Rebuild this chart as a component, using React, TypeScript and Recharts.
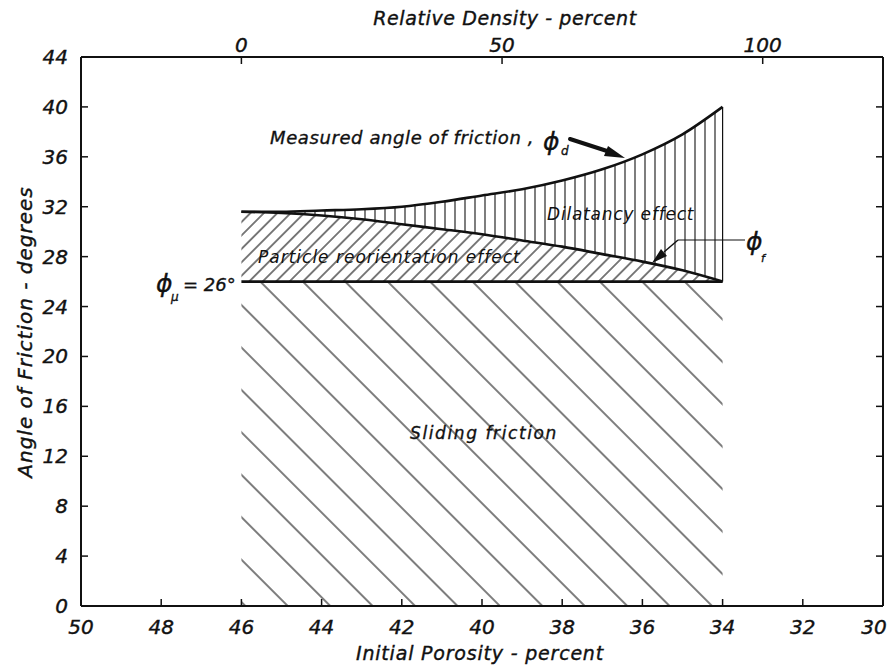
import React from "react";
import { ComposedChart, Area, Line, XAxis, YAxis, ReferenceLine } from "recharts";

// initial porosity (percent) along the curves
const porosity = [46, 45, 44, 43, 42, 41, 40, 39, 38, 37, 36, 35, 34];
// measured angle of friction, phi_d (degrees)
const phiD = [31.6, 31.6, 31.7, 31.8, 32.0, 32.4, 32.9, 33.4, 34.1, 35.0, 36.2, 37.8, 40.0];
// friction angle after reorientation, phi_f (degrees)
const phiF = [31.6, 31.5, 31.3, 31.0, 30.6, 30.2, 29.8, 29.3, 28.8, 28.2, 27.6, 26.9, 26.0];
// sliding friction angle, phi_mu (degrees)
const PHI_MU = 26;

const porosityTicks = [50, 48, 46, 44, 42, 40, 38, 36, 34, 32, 30];
const angleTicks = [0, 4, 8, 12, 16, 20, 24, 28, 32, 36, 40, 44];
const densityTicks = [0, 50, 100];

// porosity at 0 % and 100 % relative density
const POROSITY_LOOSE = 46;
const POROSITY_DENSE = 33;

const toDensity = (p: number) =>
  ((POROSITY_LOOSE - p) / (POROSITY_LOOSE - POROSITY_DENSE)) * 100;

const rows = porosity.map((p, i) => ({
  p,
  density: toDensity(p),
  mu: PHI_MU,
  f: phiF[i],
  d: phiD[i],
  sliding: [0, PHI_MU],
  reorient: [PHI_MU, phiF[i]],
  dilat: [phiF[i], phiD[i]],
}));

const FONT = '"DejaVu Sans", Verdana, sans-serif';
const INK = "#111";
const tickStyle: React.CSSProperties = {
  fontFamily: FONT,
  fontStyle: "italic",
  fontSize: 20,
  fill: INK,
  stroke: INK,
  strokeWidth: 0.4,
};
const noteStyle: React.CSSProperties = {
  fontFamily: FONT,
  fontStyle: "italic",
  fontSize: 17,
  fill: INK,
  stroke: INK,
  strokeWidth: 0.35,
};
// white halo so the hatching breaks around the lettering
const halo: React.CSSProperties = {
  stroke: "#fff",
  strokeWidth: 7,
  paintOrder: "stroke",
  strokeLinejoin: "round",
};

function BottomTick({ x, y, payload }: any) {
  // keep the last label inside the frame
  const lx = payload.value === 30 ? x - 9 : x;
  return (
    <g>
      <line x1={x} x2={x} y1={y} y2={y - 7} stroke={INK} strokeWidth={1.5} />
      <text x={lx} y={y + 28} textAnchor="middle" style={tickStyle}>
        {payload.value}
      </text>
    </g>
  );
}

function TopTick({ x, y, payload }: any) {
  return (
    <g>
      <line x1={x} x2={x} y1={y} y2={y + 7} stroke={INK} strokeWidth={1.5} />
      <text x={x} y={y - 5} textAnchor="middle" style={tickStyle}>
        {payload.value}
      </text>
    </g>
  );
}

function LeftTick({ x, y, payload }: any) {
  return (
    <g>
      <line x1={x} x2={x + 7} y1={y} y2={y} stroke={INK} strokeWidth={1.5} />
      <text x={x - 13} y={y + 7} textAnchor="end" style={tickStyle}>
        {payload.value}
      </text>
    </g>
  );
}

function RightTick({ x, y, payload }: any) {
  if (payload.value === 0 || payload.value === 44) return <g />;
  return <line x1={x} x2={x - 7} y1={y} y2={y} stroke={INK} strokeWidth={1.5} />;
}

function Notes() {
  return (
    <g>
      {/* axis titles */}
      <text x={505} y={25} textAnchor="middle" style={{ ...tickStyle, fontSize: 19, letterSpacing: 0.6 }}>
        Relative Density - percent
      </text>
      <text x={480} y={660} textAnchor="middle" style={{ ...tickStyle, fontSize: 19, letterSpacing: 0.8 }}>
        Initial Porosity - percent
      </text>
      <text
        x={0}
        y={0}
        transform="translate(32,332) rotate(-90)"
        textAnchor="middle"
        style={{ ...tickStyle, fontSize: 20, letterSpacing: 1 }}
      >
        Angle of Friction - degrees
      </text>

      {/* phi_d label and arrow */}
      <text x={270} y={144} style={{ ...noteStyle, fontSize: 18, letterSpacing: 0.6 }}>
        Measured angle of friction ,
      </text>
      <text x={543} y={150} style={{ ...noteStyle, fontSize: 25 }}>
        ϕ
      </text>
      <text x={561} y={155} style={{ ...noteStyle, fontSize: 12 }}>
        d
      </text>
      <line x1={570} y1={139} x2={607} y2={151} stroke={INK} strokeWidth={4} strokeLinecap="round" />
      <polygon points="625,158 604,156 608,146" fill={INK} />

      {/* hatched region captions */}
      <text x={547} y={220} style={{ ...noteStyle, letterSpacing: 0.8, ...halo }}>
        Dilatancy effect
      </text>
      <text x={258} y={263} style={{ ...noteStyle, letterSpacing: 1, ...halo }}>
        Particle reorientation effect
      </text>
      <rect x={398} y={417} width={165} height={29} fill="#fff" />
      <text x={410} y={439} style={{ ...noteStyle, letterSpacing: 1.6 }}>
        Sliding friction
      </text>

      {/* phi_f leader */}
      <line x1={678} y1={240} x2={745} y2={240} stroke={INK} strokeWidth={1.2} />
      <line x1={678} y1={240} x2={664} y2={252} stroke={INK} strokeWidth={1.5} />
      <polygon points="652,263 667,256 661,249" fill={INK} />
      <text x={746} y={250} style={{ ...noteStyle, fontSize: 25 }}>
        ϕ
      </text>
      <text x={761} y={262} style={{ ...noteStyle, fontSize: 11 }}>
        f
      </text>

      {/* phi_mu value */}
      <text x={156} y={292} style={{ ...noteStyle, fontSize: 25 }}>
        ϕ
      </text>
      <text x={171} y={301} style={{ ...noteStyle, fontSize: 12 }}>
        μ
      </text>
      <text x={183} y={291} style={{ ...noteStyle, fontSize: 18 }}>
        = 26°
      </text>
    </g>
  );
}

export default function App() {
  return (
    <div style={{ position: "absolute", left: 0, top: 0, background: "#fff" }}>
      <ComposedChart
        width={891}
        height={666}
        data={rows}
        margin={{ top: 17, right: 0, bottom: 20, left: 21 }}
      >
        <defs>
          <pattern id="hatchV" width={10} height={10} patternUnits="userSpaceOnUse">
            <line x1={5} y1={0} x2={5} y2={10} stroke={INK} strokeWidth={1.1} />
          </pattern>
          <pattern
            id="hatchFwd"
            width={9.5}
            height={10}
            patternUnits="userSpaceOnUse"
            patternTransform="rotate(45)"
          >
            <line x1={4.75} y1={0} x2={4.75} y2={10} stroke={INK} strokeWidth={1.1} />
          </pattern>
          <pattern
            id="hatchBack"
            width={30}
            height={10}
            patternUnits="userSpaceOnUse"
            patternTransform="rotate(-45)"
          >
            <line x1={15} y1={0} x2={15} y2={10} stroke={INK} strokeWidth={1.1} />
          </pattern>
        </defs>

        <XAxis
          xAxisId="bottom"
          dataKey="p"
          type="number"
          domain={[30, 50]}
          reversed
          ticks={porosityTicks}
          interval={0}
          height={40}
          tickSize={0}
          tickMargin={0}
          tickLine={false}
          tick={<BottomTick />}
          axisLine={{ stroke: INK, strokeWidth: 2 }}
          allowDataOverflow
        />
        <XAxis
          xAxisId="top"
          dataKey="density"
          orientation="top"
          type="number"
          domain={[toDensity(50), toDensity(30)]}
          ticks={densityTicks}
          interval={0}
          height={40}
          tickSize={0}
          tickMargin={0}
          tickLine={false}
          tick={<TopTick />}
          axisLine={{ stroke: INK, strokeWidth: 2 }}
          allowDataOverflow
        />
        <YAxis
          yAxisId="left"
          type="number"
          domain={[0, 44]}
          ticks={angleTicks}
          interval={0}
          width={60}
          tickSize={0}
          tickMargin={0}
          tickLine={false}
          tick={<LeftTick />}
          axisLine={{ stroke: INK, strokeWidth: 2 }}
          allowDataOverflow
        />
        <YAxis
          yAxisId="right"
          orientation="right"
          type="number"
          domain={[0, 44]}
          ticks={angleTicks}
          interval={0}
          width={8}
          tickSize={0}
          tickMargin={0}
          tickLine={false}
          tick={<RightTick />}
          axisLine={{ stroke: INK, strokeWidth: 2 }}
          allowDataOverflow
        />

        <Area
          xAxisId="bottom"
          yAxisId="left"
          dataKey="sliding"
          type="linear"
          stroke="none"
          fill="url(#hatchBack)"
          fillOpacity={1}
          isAnimationActive={false}
        />
        <Area
          xAxisId="bottom"
          yAxisId="left"
          dataKey="reorient"
          type="monotone"
          stroke="none"
          fill="url(#hatchFwd)"
          fillOpacity={1}
          isAnimationActive={false}
        />
        <Area
          xAxisId="bottom"
          yAxisId="left"
          dataKey="dilat"
          type="monotone"
          stroke="none"
          fill="url(#hatchV)"
          fillOpacity={1}
          isAnimationActive={false}
        />

        <ReferenceLine
          xAxisId="bottom"
          yAxisId="left"
          segment={[
            { x: porosity[porosity.length - 1], y: PHI_MU },
            { x: porosity[porosity.length - 1], y: phiD[phiD.length - 1] },
          ]}
          stroke={INK}
          strokeWidth={1.2}
        />

        {/* invisible series tying the density scale to the same rows */}
        <Line
          xAxisId="top"
          yAxisId="right"
          dataKey="mu"
          type="linear"
          stroke="none"
          dot={false}
          activeDot={false}
          isAnimationActive={false}
        />

        <Line
          xAxisId="bottom"
          yAxisId="left"
          dataKey="mu"
          type="linear"
          stroke={INK}
          strokeWidth={2.6}
          dot={false}
          activeDot={false}
          isAnimationActive={false}
        />
        <Line
          xAxisId="bottom"
          yAxisId="left"
          dataKey="f"
          type="monotone"
          stroke={INK}
          strokeWidth={2.6}
          dot={false}
          activeDot={false}
          isAnimationActive={false}
        />
        <Line
          xAxisId="bottom"
          yAxisId="left"
          dataKey="d"
          type="monotone"
          stroke={INK}
          strokeWidth={2.6}
          dot={false}
          activeDot={false}
          isAnimationActive={false}
        />

        <Notes />
      </ComposedChart>
    </div>
  );
}
